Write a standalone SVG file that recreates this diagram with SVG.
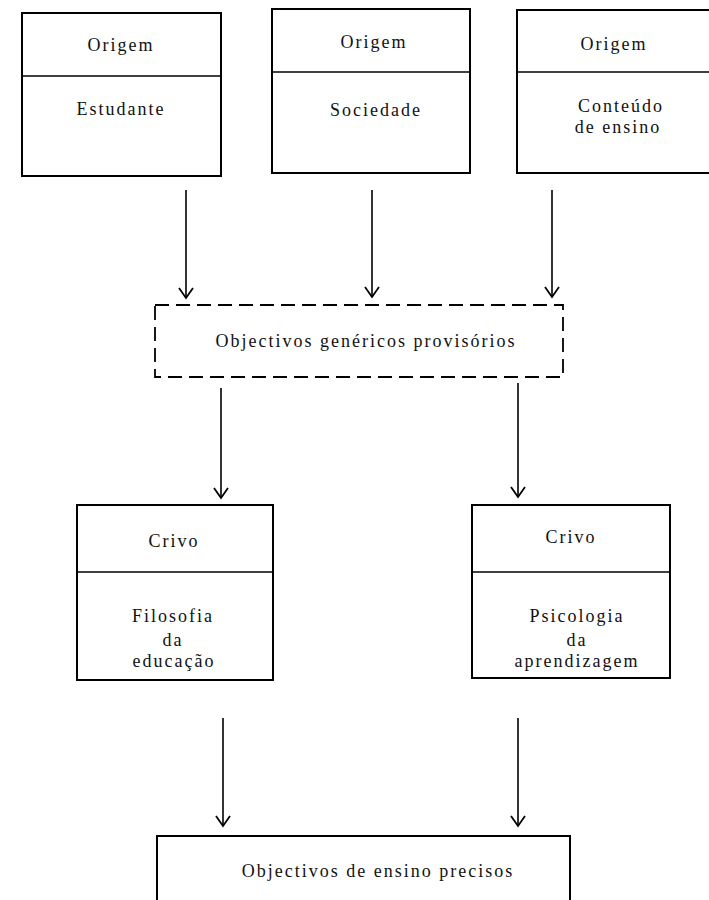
<svg xmlns="http://www.w3.org/2000/svg" width="709" height="900" viewBox="0 0 709 900">
<style>
  .box { fill: none; stroke: #000; stroke-width: 2; }
  .div { fill: none; stroke: #000; stroke-width: 1.6; }
  .dash { fill: none; stroke: #000; stroke-width: 1.8; stroke-dasharray: 14 7; }
  .t { font-family: "Liberation Serif", "DejaVu Serif", serif; font-size: 18px; letter-spacing: 2px; fill: #111; text-anchor: middle; }
  .conn { stroke: #000; stroke-width: 1.6; fill: none; marker-end: url(#arr); }
</style>
<defs>
  <marker id="arr" markerUnits="userSpaceOnUse" markerWidth="20" markerHeight="20" refX="15" refY="10" orient="auto" viewBox="0 0 20 20">
    <path d="M5,3 L15,10 L5,17" fill="none" stroke="#000" stroke-width="1.8"/>
  </marker>
</defs>
<rect width="709" height="900" fill="#fff"/>

<g id="estudante">
  <rect class="box" x="22" y="13" width="199" height="163"/>
  <line class="div" x1="22" y1="76" x2="221" y2="76"/>
  <text class="t" x="121" y="51">Origem</text>
  <text class="t" x="121" y="115">Estudante</text>
</g>

<g id="sociedade">
  <rect class="box" x="272" y="9" width="198" height="164"/>
  <line class="div" x1="272" y1="72" x2="470" y2="72"/>
  <text class="t" x="374" y="48">Origem</text>
  <text class="t" x="376" y="116">Sociedade</text>
</g>

<g id="conteudo">
  <rect class="box" x="517" y="10" width="200" height="163"/>
  <line class="div" x1="517" y1="72" x2="717" y2="72"/>
  <text class="t" x="614" y="50">Origem</text>
  <text class="t" x="621" y="112">Conteúdo</text>
  <text class="t" x="618" y="133">de ensino</text>
</g>

<g id="objectivos-genericos">
  <rect class="dash" x="155" y="305" width="408" height="72"/>
  <text class="t" x="366" y="347">Objectivos genéricos provisórios</text>
</g>

<g id="crivo-filosofia">
  <rect class="box" x="77" y="505" width="196" height="175"/>
  <line class="div" x1="77" y1="572" x2="273" y2="572"/>
  <text class="t" x="174" y="547">Crivo</text>
  <text class="t" x="173" y="622">Filosofia</text>
  <text class="t" x="173" y="646">da</text>
  <text class="t" x="174" y="667">educação</text>
</g>

<g id="crivo-psicologia">
  <rect class="box" x="472" y="505" width="198" height="173"/>
  <line class="div" x1="472" y1="572" x2="670" y2="572"/>
  <text class="t" x="571" y="543">Crivo</text>
  <text class="t" x="577" y="622">Psicologia</text>
  <text class="t" x="577" y="646">da</text>
  <text class="t" x="577" y="667">aprendizagem</text>
</g>

<g id="objectivos-precisos">
  <rect class="box" x="157" y="836" width="413" height="80"/>
  <text class="t" x="378" y="877">Objectivos de ensino precisos</text>
</g>

<g id="connectors">
  <line class="conn" x1="186" y1="190" x2="186" y2="298"/>
  <line class="conn" x1="372" y1="190" x2="372" y2="297"/>
  <line class="conn" x1="552" y1="190" x2="552" y2="297"/>
  <line class="conn" x1="221" y1="388" x2="221" y2="498"/>
  <line class="conn" x1="518" y1="383" x2="518" y2="497"/>
  <line class="conn" x1="223" y1="718" x2="223" y2="826"/>
  <line class="conn" x1="518" y1="718" x2="518" y2="826"/>
</g>
</svg>
